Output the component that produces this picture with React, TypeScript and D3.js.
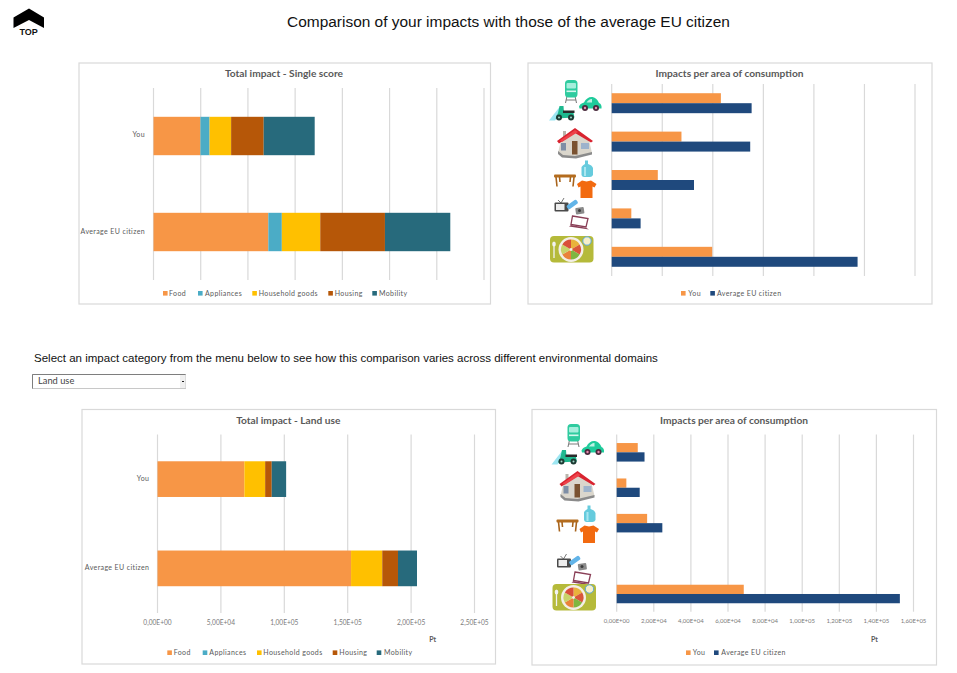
import React from "react";
import * as d3 from "d3";

// Per-area impacts, single score, in the order the stacks are drawn.
const areas = ["Food", "Appliances", "Household goods", "Housing", "Mobility"];
const people = ["You", "Average EU citizen"];
const scoreYou = [497, 97, 228, 345, 540];
const scoreEu = [1216, 143, 407, 685, 692];
const landYou = [68500, 0, 16400, 5200, 11350];
const landEu = [152650, 0, 24600, 12400, 15000];

const areaColors = ["#F79646", "#4BACC6", "#FFC000", "#B65708", "#276A7C"];
const personColors = ["#F79646", "#1F497D"];

// The consumption charts list the areas bottom-up.
const areasTopDown = ["Mobility", "Housing", "Household goods", "Appliances", "Food"];

const scoreTotalTicks = [0, 500, 1000, 1500, 2000, 2500, 3000, 3500];
const scoreAreaTicks = [0, 250, 500, 750, 1000, 1250, 1500];
const landTotalTicks = [0, 50000, 100000, 150000, 200000, 250000];
const landAreaTicks = [0, 20000, 40000, 60000, 80000, 100000, 120000, 140000, 160000];

const GREY = "#595959";
const GRID = "#D9D9D9";
const CHART_FONT = "Lato, Carlito, sans-serif";

// Excel-style scientific label with a decimal comma: 5,00E+04
const sci = (v: number) => {
  const [m, e] = v.toExponential(2).split("e");
  const exp = Math.abs(+e);
  return `${m.replace(".", ",")}E${+e < 0 ? "-" : "+"}${exp < 10 ? "0" : ""}${exp}`;
};

type Box = { x: number; y: number; w: number; h: number };

function Frame({ box, title, titleX, titleY }: { box: Box; title: string; titleX: number; titleY: number }) {
  return (
    <g>
      <rect x={box.x} y={box.y} width={box.w} height={box.h} fill="#fff" stroke={GRID} strokeWidth={1.2} />
      <text x={titleX} y={titleY} dy="0.35em" textAnchor="middle" fontFamily={CHART_FONT} fontWeight={700} fontSize={10.2} fill={GREY}>
        {title}
      </text>
    </g>
  );
}

function Legend({ items, colors, swatchX, textX, y }: { items: string[]; colors: string[]; swatchX: number[]; textX: number[]; y: number }) {
  return (
    <g fontFamily={CHART_FONT} fontSize={7} letterSpacing={0.38} fill={GREY}>
      {items.map((name, i) => (
        <g key={name}>
          <rect x={swatchX[i]} y={y - 2.3} width={4.6} height={4.6} fill={colors[i]} />
          <text x={textX[i]} y={y} dy="0.35em">{name}</text>
        </g>
      ))}
    </g>
  );
}

function Grid({ x, ticks, y0, y1 }: { x: d3.ScaleLinear<number, number>; ticks: number[]; y0: number; y1: number }) {
  return (
    <g stroke={GRID} strokeWidth={1.2}>
      {ticks.map((t) => (
        <line key={t} x1={x(t)} x2={x(t)} y1={y0} y2={y1} />
      ))}
    </g>
  );
}

function TickLabels({ x, ticks, y, size }: { x: d3.ScaleLinear<number, number>; ticks: number[]; y: number; size: number }) {
  return (
    <g fontFamily={CHART_FONT} fontSize={size} fill="#7a7a7a" textAnchor="middle">
      {ticks.map((t) => (
        <text key={t} x={x(t)} y={y} dy="0.35em">{sci(t)}</text>
      ))}
    </g>
  );
}

function Stacked({ you, eu, ticks, xRange, yRange, barShare, labelX, labelYs, labelTicksY }: {
  you: number[]; eu: number[]; ticks: number[]; xRange: [number, number]; yRange: [number, number];
  barShare: number; labelX: number; labelYs: number[]; labelTicksY?: number;
}) {
  const x = d3.scaleLinear().domain([ticks[0], ticks[ticks.length - 1]]).range(xRange);
  const y = d3.scaleBand<string>().domain(people).range(yRange).paddingInner(1 - barShare).paddingOuter((1 - barShare) / 2);
  const rows = people.map((person, r) => {
    const src = r === 0 ? you : eu;
    return Object.fromEntries([["person", person], ...areas.map((a, i) => [a, src[i]])]);
  });
  const layers = d3.stack<any>().keys(areas)(rows);
  return (
    <g>
      <Grid x={x} ticks={ticks} y0={yRange[0]} y1={yRange[1]} />
      {layers.map((layer, i) =>
        layer.map((d, j) => (
          <rect key={`${i}-${j}`} x={x(d[0])} width={x(d[1]) - x(d[0])} y={y(people[j])} height={y.bandwidth()} fill={areaColors[i]} />
        ))
      )}
      <g fontFamily={CHART_FONT} fontSize={7} letterSpacing={0.38} fill={GREY} textAnchor="end">
        {people.map((p, i) => (
          <text key={p} x={labelX} y={labelYs[i]} dy="0.35em">{p}</text>
        ))}
      </g>
      {labelTicksY !== undefined && <TickLabels x={x} ticks={ticks} y={labelTicksY} size={6.6} />}
    </g>
  );
}

function Grouped({ you, eu, ticks, xRange, yRange, groupShare, labelTicksY }: {
  you: number[]; eu: number[]; ticks: number[]; xRange: [number, number]; yRange: [number, number];
  groupShare: number; labelTicksY?: number;
}) {
  const x = d3.scaleLinear().domain([ticks[0], ticks[ticks.length - 1]]).range(xRange);
  const y = d3.scaleBand<string>().domain(areasTopDown).range(yRange).paddingInner(1 - groupShare).paddingOuter((1 - groupShare) / 2);
  const inner = d3.scaleBand<string>().domain(people).range([0, y.bandwidth()]);
  const valueOf = (src: number[], area: string) => src[areas.indexOf(area)];
  return (
    <g>
      <Grid x={x} ticks={ticks} y0={yRange[0]} y1={yRange[1]} />
      {areasTopDown.map((area) => (
        <g key={area}>
          {[you, eu].map((src, i) => (
            <rect key={i} x={x(0)} width={x(valueOf(src, area)) - x(0)} y={(y(area) as number) + (inner(people[i]) as number)} height={inner.bandwidth()} fill={personColors[i]} />
          ))}
        </g>
      ))}
      {labelTicksY !== undefined && <TickLabels x={x} ticks={ticks} y={labelTicksY} size={6} />}
    </g>
  );
}

/* Pictograms for the consumption areas, one group per row of the charts. */
function TransportIcon() {
  return (
    <g>
      <path d="M567 96 L565.5 103 M575 96 L576.5 103 M566 100 L576 100" stroke="#7d7d7d" strokeWidth={1.1} fill="none" />
      <rect x={565} y={80} width={12.5} height={17.5} rx={3.5} fill="#2FCB9F" />
      <rect x={566.5} y={83} width={9.5} height={5.5} rx={1} fill="#A6EEDC" />
      <rect x={566.5} y={90.5} width={9.5} height={1.6} fill="#D6F7EE" />
      <path d="M579 106.5 Q580 103.5 584 102.5 Q587 96.5 592.5 97 Q597 98 599 103 Q602 104 601.5 108.5 L579.5 108.5 Z" fill="#1FCB9B" />
      <path d="M586.5 102.5 Q589 98.7 592 99 L592 102.5 Z" fill="#BDF2E3" />
      <circle cx={585} cy={108} r={3} fill="#4a2b3d" />
      <circle cx={585} cy={108} r={1.2} fill="#E98BB0" />
      <circle cx={596} cy={108} r={3} fill="#4a2b3d" />
      <circle cx={596} cy={108} r={1.2} fill="#E98BB0" />
      <path d="M549 120.5 L559.5 107 L562 112 L555 120.5 Z" fill="#9DE6F2" />
      <path d="M559.5 106 L563.5 106 L564 113 L573.5 113 L574.5 117.5 L555.5 118.5 L558 113 Z" fill="#1FB98F" />
      <rect x={563} y={110.5} width={11.5} height={2.5} fill="#2a2a2a" />
      <circle cx={559} cy={117.5} r={3} fill="#1d3a33" />
      <circle cx={559} cy={117.5} r={1} fill="#9fd8c8" />
      <circle cx={571} cy={117.5} r={3} fill="#1d3a33" />
      <circle cx={571} cy={117.5} r={1} fill="#9fd8c8" />
    </g>
  );
}

function HouseIcon() {
  return (
    <g>
      <path d="M558 153 L561 140 L575 131 L589 140 L592 153 L576 158 L562 156 Z" fill="#DAD6CC" />
      <path d="M558 151 L563 155 L575 156 L592 152 L592 154.5 L576 158.5 L562 157.5 L558 154 Z" fill="#8B8B8B" />
      <path d="M563 131 L566 131 L566 136 L563 137 Z" fill="#B9B5AC" />
      <path d="M557 141 L575 128 L593 141 L591 142.5 L575 133 L559 143.5 Z" fill="#D8232F" />
      <path d="M560 140.5 L575 130 L578 132 L562 142 Z" fill="#EE4149" />
      <rect x={572} y={141} width={5.5} height={13.5} fill="#7A5230" />
      <rect x={561} y={143} width={5} height={7.5} fill="#7E8EA5" />
      <rect x={581} y={143} width={8} height={6} fill="#9DB3CC" />
    </g>
  );
}

function GoodsIcon() {
  return (
    <g>
      <path d="M581.5 175 L581.5 167 Q583 165 585 164 L585 160.5 L588 160.5 L588 164 Q592 165 593 168 L593 175 Q592 177 590 177 L584 177 Q582 177 581.5 175 Z" fill="#66CBDD" />
      <path d="M584 167 L586 167 L586 176 L584 176 Z" fill="#A9E6F0" />
      <rect x={554} y={174.5} width={22} height={3} rx={1} fill="#B46C1E" />
      <path d="M556 177 L557 186.5 M574 177 L573 186.5 M559.5 177 L560 182 M570.5 177 L570 182" stroke="#A8641C" strokeWidth={1.6} />
      <path d="M582 180.5 L586.5 181.5 L591 180.5 L596.5 184 L594.5 187.5 L592.5 186.5 L592.5 198 L580.5 198 L580.5 186.5 L578.5 187.5 L577 184 Z" fill="#F26A10" />
    </g>
  );
}

function ElectronicsIcon() {
  return (
    <g>
      <path d="M558 200 L561 203 L564 198" stroke="#666" strokeWidth={0.9} fill="none" />
      <rect x={554.5} y={202.5} width={14} height={9} rx={1} fill="#4A4A4A" />
      <rect x={556} y={204} width={8.5} height={6} fill="#EDEDED" />
      <rect x={566.5} y={202.5} width={12} height={4.5} rx={1.5} transform="rotate(-35 572 205)" fill="#62B4E8" />
      <rect x={575.5} y={207.5} width={8.5} height={6.5} rx={1} fill="#8A8A8A" transform="rotate(-8 580 210)" />
      <circle cx={579.5} cy={210.5} r={1.5} fill="#3D3D3D" />
      <path d="M572.5 216 L588 218.5 L586 227 L571 224.5 Z" fill="#fff" stroke="#8A3F57" strokeWidth={1.3} />
      <path d="M571 225 L586 227.8 L589 229.5 L569 226.5 Z" fill="#8A3F57" />
    </g>
  );
}

function FoodIcon() {
  const wedges = ["#E9B23C", "#D9573A", "#7FB640", "#E9823A", "#C9D36A", "#D94F3A"];
  const pie = d3.pie<string>().value(() => 1)(wedges);
  const arc = d3.arc<any>().innerRadius(1.5).outerRadius(10);
  return (
    <g>
      <rect x={550} y={236} width={43.5} height={26.5} rx={4} fill="#B5BA3A" />
      <circle cx={571} cy={249.5} r={12.5} fill="#F3EFE6" />
      <g transform="translate(571 249.5)">
        {pie.map((p, i) => (
          <path key={i} d={arc(p) as string} fill={wedges[i]} />
        ))}
      </g>
      <circle cx={587} cy={241} r={4.2} fill="#F5EFC9" stroke="#5BA7D8" strokeWidth={1} />
      <path d="M554 245 L554 258" stroke="#F2F2F2" strokeWidth={1.3} />
      <ellipse cx={554} cy={244} rx={1.8} ry={2.6} fill="#F2F2F2" />
    </g>
  );
}

function IconColumn({ dx, dy }: { dx: number; dy: number[] }) {
  const icons = [TransportIcon, HouseIcon, GoodsIcon, ElectronicsIcon, FoodIcon];
  return (
    <g>
      {icons.map((Icon, i) => (
        <g key={i} transform={`translate(${dx} ${dy[i]})`}>
          <Icon />
        </g>
      ))}
    </g>
  );
}

export default function App() {
  return (
    <svg width={957} height={673} style={{ position: "absolute", left: 0, top: 0, background: "#fff" }}>
      {/* Back-to-top marker */}
      <path d="M13.5 17.5 L29 8.5 L44 17.5 L44 28 L29 20 L13.5 28 Z" fill="#000" />
      <text x={28.7} y={32.3} dy="0.35em" textAnchor="middle" fontFamily="Liberation Sans, sans-serif" fontWeight={700} fontSize={9} fill="#111">TOP</text>

      <text x={508.5} y={22} dy="0.35em" textAnchor="middle" fontFamily="Liberation Sans, Arial, sans-serif" fontSize={15.45} fill="#111">
        Comparison of your impacts with those of the average EU citizen
      </text>

      <Frame box={{ x: 79, y: 63, w: 411.5, h: 241 }} title="Total impact - Single score" titleX={284} titleY={73.5} />
      <Stacked you={scoreYou} eu={scoreEu} ticks={scoreTotalTicks} xRange={[153.5, 484]} yRange={[88, 280]} barShare={0.4} labelX={145} labelYs={[135, 232]} />
      <Legend items={areas} colors={areaColors} swatchX={[163, 198, 252.3, 328.3, 372.3]} textX={[169, 205, 258.7, 334.7, 379]} y={293.3} />

      <Frame box={{ x: 528, y: 63, w: 404, h: 241 }} title="Impacts per area of consumption" titleX={729.5} titleY={73.5} />
      <Grouped you={scoreYou} eu={scoreEu} ticks={scoreAreaTicks} xRange={[611.7, 915]} yRange={[84, 276]} groupShare={0.52} />
      <IconColumn dx={0} dy={[0, 0, 0, 0, 0]} />
      <Legend items={people} colors={personColors} swatchX={[681, 710.3]} textX={[688.3, 717]} y={293.3} />

      <text x={34} y={357.5} dy="0.35em" fontFamily="Liberation Sans, Arial, sans-serif" fontSize={11.53} fill="#111">
        Select an impact category from the menu below to see how this comparison varies across different environmental domains
      </text>

      {/* Category drop-down */}
      <rect x={32.5} y={374.5} width={153} height={14} fill="#fff" stroke="#C8C8C8" />
      <path d="M32.5 388.5 L32.5 374.5 L185.5 374.5" fill="none" stroke="#7E7E7E" />
      <rect x={180} y={375} width={5.5} height={13} fill="#F0F0F0" />
      <line x1={182} x2={184} y1={381.5} y2={381.5} stroke="#222" />
      <text x={38} y={381} dy="0.35em" fontFamily={CHART_FONT} fontSize={9.3} fill="#444">Land use</text>

      <Frame box={{ x: 82, y: 409.5, w: 413.5, h: 254.5 }} title="Total impact - Land use" titleX={288.3} titleY={420.5} />
      <Stacked you={landYou} eu={landEu} ticks={landTotalTicks} xRange={[157.5, 474.5]} yRange={[434.5, 613]} barShare={0.4} labelX={149.3} labelYs={[479, 567.7]} labelTicksY={622.3} />
      <text x={432.7} y={640} dy="0.35em" textAnchor="middle" fontFamily={CHART_FONT} fontWeight={700} fontSize={7} fill={GREY}>Pt</text>
      <Legend items={areas} colors={areaColors} swatchX={[167.3, 202.7, 257, 332.7, 376.7]} textX={[173.7, 209.3, 263.3, 339.3, 384]} y={652.7} />

      <Frame box={{ x: 532, y: 409.5, w: 404.5, h: 255.5 }} title="Impacts per area of consumption" titleX={734} titleY={420.5} />
      <Grouped you={landYou} eu={landEu} ticks={landAreaTicks} xRange={[616.7, 913.5]} yRange={[434.6, 611.7]} groupShare={0.523} labelTicksY={620.5} />
      <IconColumn dx={2.5} dy={[344, 343, 345, 356, 348]} />
      <text x={874.5} y={640} dy="0.35em" textAnchor="middle" fontFamily={CHART_FONT} fontWeight={700} fontSize={7} fill={GREY}>Pt</text>
      <Legend items={people} colors={personColors} swatchX={[686, 714]} textX={[692.7, 721.3]} y={652.7} />
    </svg>
  );
}
